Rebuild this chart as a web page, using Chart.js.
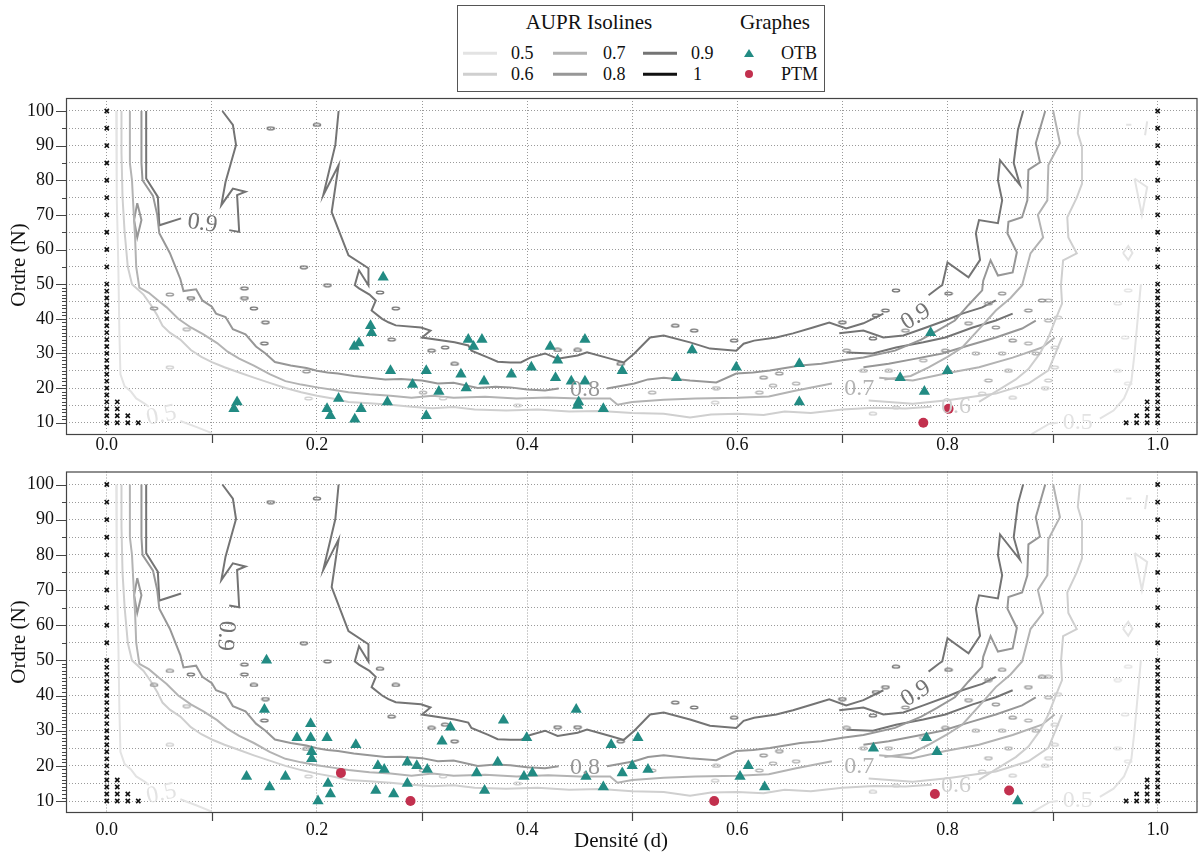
<!DOCTYPE html>
<html>
<head>
<meta charset="utf-8">
<script src="https://cdn.jsdelivr.net/npm/chart.js@4.4.1/dist/chart.umd.min.js"></script>
<style>
  body { margin: 0; background: #fff; width: 1204px; height: 853px; position: relative; overflow: hidden;
         font-family: "Liberation Serif", "Times New Roman", serif; color: #111; }
  .panel { position: absolute; left: 0; }
  #top { top: 90px; }
  #bot { top: 465px; }
  .ytitle { position: absolute; left: 18px; font-size: 21px; white-space: nowrap;
            transform: translate(-50%, -50%) rotate(-90deg); }
  #xtitle { position: absolute; left: 621px; top: 840px; font-size: 21px; white-space: nowrap;
            transform: translate(-50%, -50%); }
  #legend { position: absolute; left: 457px; top: 5px; width: 368px; height: 87px;
            border: 1px solid #555; box-sizing: border-box; background: #fff; }
  #legend div { position: absolute; white-space: nowrap; }
  .lt { font-size: 21px; transform: translate(-50%, -50%); }
  .li { font-size: 18px; transform: translateY(-50%); }
  .ls { height: 2.5px; width: 34px; transform: translateY(-50%); }
  .tri { width: 0; height: 0; border-left: 5px solid transparent; border-right: 5px solid transparent;
         border-bottom: 8px solid #228b83; transform: translate(-50%, -50%); }
  .dot { width: 8px; height: 8px; border-radius: 50%; background: #c2304e; transform: translate(-50%, -50%); }
</style>
</head>
<body>
<div class="panel" id="top"><canvas id="chartTop" width="1204" height="375"></canvas></div>
<div class="panel" id="bot"><canvas id="chartBot" width="1204" height="388"></canvas></div>
<div class="ytitle" style="top:265px">Ordre (N)</div>
<div class="ytitle" style="top:642px">Ordre (N)</div>
<div id="xtitle">Densité (d)</div>

<div id="legend">
  <div class="lt" style="left:131px;top:16px">AUPR Isolines</div>
  <div class="lt" style="left:317px;top:16px">Graphes</div>
  <div class="ls" style="left:5px;top:47px;background:#e3e3e3"></div><div class="li" style="left:53px;top:47px">0.5</div>
  <div class="ls" style="left:5px;top:68px;background:#cfcfcf"></div><div class="li" style="left:53px;top:68px">0.6</div>
  <div class="ls" style="left:95px;top:47px;background:#b3b3b3"></div><div class="li" style="left:145px;top:47px">0.7</div>
  <div class="ls" style="left:95px;top:68px;background:#979797"></div><div class="li" style="left:145px;top:68px">0.8</div>
  <div class="ls" style="left:185px;top:47px;background:#747474"></div><div class="li" style="left:233px;top:47px">0.9</div>
  <div class="ls" style="left:185px;top:68px;background:#111111"></div><div class="li" style="left:235px;top:68px">1</div>
  <div class="tri" style="left:291px;top:47px"></div><div class="li" style="left:323px;top:47px">OTB</div>
  <div class="dot" style="left:291px;top:68px"></div><div class="li" style="left:323px;top:68px">PTM</div>
</div>

<script>
// axes
const xTicks = [0, 0.1, 0.2, 0.3, 0.4, 0.5, 0.6, 0.7, 0.8, 0.9, 1.0];
const yTicks = [10, 15, 20, 25, 30, 35, 40, 45, 50, 55, 60, 65, 70, 75, 80, 85, 90, 95, 100];
const yMinor = [];
for (let n = 11; n < 50; n++) if (n % 10 !== 0) yMinor.push(n);
[55, 65, 75, 85, 95].forEach(n => yMinor.push(n));

// graphs (densite, ordre)
const otbTop = [[0.124,16],[0.121,14],[0.2096,14],[0.2128,12],[0.2206,17],[0.236,11],[0.242,14],[0.2355,32],
  [0.240,33],[0.251,38],[0.252,36],[0.263,52],[0.267,16],[0.270,25],[0.291,21],[0.304,25],[0.304,12],[0.316,19],
  [0.337,24],[0.342,20],[0.344,34],[0.349,32],[0.357,34],[0.359,22],[0.385,24],[0.404,26],[0.422,32],[0.427,23],
  [0.429,28],[0.442,22],[0.448,15],[0.449,16],[0.455,34],[0.455,22],[0.4725,14],[0.4905,25],[0.542,23],[0.557,31],
  [0.599,26],[0.659,27],[0.659,16],[0.755,23],[0.778,19],[0.784,36],[0.80,25]];
const ptmTop = [[0.777,10],[0.801,14]];
const otbBottom = [[0.133,17],[0.150,36],[0.152,50],[0.155,14],[0.170,17],[0.181,28],[0.194,32],[0.194,28],
  [0.195,24],[0.195,22],[0.201,10],[0.2096,28],[0.2105,15],[0.2128,12],[0.237,26],[0.256,13],[0.258,20],[0.264,19],
  [0.273,12],[0.286,21],[0.286,15],[0.295,20],[0.305,19],[0.319,27],[0.327,31],[0.352,18],[0.3595,13],[0.372,21],
  [0.3775,33],[0.397,17],[0.3996,28],[0.405,18],[0.4467,36],[0.456,17],[0.4725,14],[0.480,26],[0.4905,18],[0.500,20],
  [0.5054,28],[0.515,19],[0.6026,17],[0.6105,20],[0.626,14],[0.7295,25],[0.780,28],[0.790,24],[0.8668,10]];
const ptmBottom = [[0.2228,18],[0.289,10],[0.578,10],[0.788,12],[0.8586,13]];

// non realisables
const orders = [10,12,14,16,18,20,22,24,26,28,30,32,34,36,38,40,42,44,46,48,50,55,60,65,70,75,80,85,90,95,100];
const infeasibleExtra = [[0.01,10],[0.01,12],[0.01,14],[0.01,16],[0.02,10],[0.02,12],[0.03,10],
  [0.97,10],[0.98,10],[0.98,12],[0.99,10],[0.99,12],[0.99,14],[0.99,16]];

// isolines AUPR (null = coupure pour etiquette)
const iso05Left = [[0.009,100],[0.0095,75],[0.011,55],[0.012,36],[0.013,24],[0.017,20.5],[0.023,19],[0.028,17],
  [0.036,15.5],[0.04,14.6],null,[0.07,10.5],[0.085,8.8],[0.1,7]];
const iso05Right = [[0.88,6.7],[0.897,9.7],[0.905,10],null,[0.945,11.2],[0.958,13.5],[0.968,17],[0.975,22],
  [0.978,30],[0.981,40],[0.984,50]];
const iso05Bits = [[[0.978,80.5],[0.99,78],[0.985,70],[0.978,80.5]],[[0.967,59],[0.972,61],[0.976,59],[0.972,57],[0.967,59]],
  [[0.97,96],[0.975,96]],[[0.988,93],[0.99,97]]];
const iso06 = [[0.014,100],[0.014,88],[0.015,75],[0.017,65],[0.02,55],[0.024,50],[0.035,47],[0.042,44],[0.048,41],
  [0.053,38],[0.06,36],[0.07,34],[0.08,31],[0.09,29],[0.1,27.5],[0.112,26],[0.126,24.5],[0.14,23],[0.155,21.5],
  [0.17,20],[0.185,18.8],[0.2,17.8],[0.215,17],[0.23,16],[0.25,15.6],[0.27,15.2],[0.29,14.6],[0.31,14.2],[0.33,14.5],
  [0.35,13.8],[0.38,13.5],[0.41,13.8],[0.44,13.2],[0.47,13.4],[0.5,12.8],[0.53,12.6],[0.555,11.5],[0.575,12.4],
  [0.6,12.6],[0.625,12.2],[0.645,13.2],[0.67,12.8],[0.7,13.8],[0.73,14.3],[0.76,14.1],[0.785,14.6],null,[0.83,16],
  [0.846,19],[0.865,22.5],[0.877,25.5],[0.888,30],[0.896,34.6],[0.903,40],[0.909,44.4],[0.908,49.7],[0.91,56.9],
  [0.923,58.9],[0.915,63.5],[0.914,69.3],[0.923,75],[0.928,79],[0.928,89.6],[0.924,93.6],[0.926,100]];
const iso06b = [[0.725,16.4],[0.767,15.5],[0.8,16.5],[0.846,18.4],[0.877,21.3],[0.896,25.1],[0.909,34.6]];
const iso07 = [[0.022,100],[0.022,85],[0.024,80],[0.025,74],[0.027,63],[0.028,55],[0.031,49],[0.04,47.5],[0.05,45],
  [0.057,43.3],[0.068,40],[0.08,37.5],[0.092,35.5],[0.105,33],[0.115,30.5],[0.126,28.5],[0.14,26.5],[0.155,24],
  [0.17,22],[0.185,21],[0.2,20.2],[0.215,19.5],[0.23,18.8],[0.25,18.2],[0.27,17.8],[0.29,17.2],[0.31,17.8],[0.33,17.2],
  [0.36,17.5],[0.39,17],[0.42,17.3],[0.45,17],[0.479,17],[0.486,15.2],[0.5,16],[0.53,16.6],[0.56,17],[0.6,17.2],
  [0.63,17.6],[0.656,19.3],[0.69,21.3],null,[0.74,22.5],[0.765,23.5],[0.782,26],[0.8,29],[0.814,31.7],[0.83,37],
  [0.846,42.4],[0.86,46],[0.871,49.7],[0.879,58.9],[0.891,63.5],[0.886,70],[0.895,74.2],[0.896,84.4],[0.907,90.7],[0.9006,100]];
const iso07b = [[0.735,23],[0.767,22.2],[0.798,24.2],[0.83,26],[0.862,28.8],[0.89,31.7],[0.902,34.6]];
const iso08 = [[0.033,100],[0.033,85],[0.034,80],[0.044,75.5],[0.048,70],[0.05,64.7],[0.06,59],[0.07,51.5],[0.073,48],
  [0.085,48.5],[0.091,45.3],[0.1,43.5],[0.104,41.5],[0.113,40.5],[0.12,37],[0.132,35.5],[0.142,32],[0.151,30],
  [0.16,27.5],[0.175,26.5],[0.19,25.8],[0.2,25],[0.21,24.5],[0.22,24.2],[0.235,23.5],[0.25,23],[0.265,22.5],[0.28,22.6],
  [0.3,22.2],[0.315,21.3],[0.33,21.5],[0.353,20],[0.37,20.4],[0.384,20.2],[0.4,19.6],[0.417,19.3],[0.43,19.9],null,
  [0.476,19.9],[0.502,21.3],[0.515,22.5],[0.53,23],[0.555,22.2],[0.58,21.6],[0.599,24.2],[0.615,24.5],[0.631,25.1],
  [0.66,26.5],[0.68,27],[0.7,28],[0.72,28.8],[0.75,30.8],[0.775,34],[0.79,36.5],[0.807,39.5],[0.82,44],[0.833,48.2],
  [0.834,51],[0.841,56.9],[0.848,52.5],[0.862,53.4],[0.866,59.2],[0.857,64.7],[0.858,68],[0.871,69.3],[0.876,74.2],
  [0.877,83],[0.888,85.2],[0.884,90.7],[0.893,100]];
const iso08b = [[0.72,26],[0.744,27],[0.77,28.5],[0.795,30],[0.82,32.3],[0.846,34.6],[0.871,37.2],[0.884,39.5]];
const iso08loop = [[0.029,73.4],[0.033,68.5],[0.029,63.5],[0.026,68.5],[0.029,73.4]];
const iso09 = [[0.2206,100],[0.2175,90.2],[0.206,75.7],[0.2206,84.4],[0.214,70.8],[0.23,58.3],[0.249,54.6],[0.249,49.7],
  [0.24,54],[0.236,49.7],[0.24,48.8],[0.25,47],[0.256,45.3],[0.252,42.4],[0.262,40],[0.268,39],[0.275,38.1],[0.299,37.5],
  [0.308,36.6],[0.3,34.6],[0.331,33.2],[0.344,32.3],[0.347,30.8],[0.363,28.8],[0.372,27.6],[0.384,27.4],[0.394,27.4],
  [0.403,28.8],[0.417,30],[0.429,28.5],[0.448,29.4],[0.457,30.3],[0.479,28.5],[0.492,27.4],[0.502,30],[0.517,34.6],
  [0.53,35.2],[0.555,33.2],[0.574,31.4],[0.599,30.8],[0.606,32.8],[0.616,33.7],[0.637,34.6],[0.653,35.8],[0.672,37.5],
  [0.6875,38.9],[0.7036,37.2],[0.72,38.7],[0.739,41.5],null,[0.782,46.8],[0.792,49.1],[0.795,49.7],[0.800,56.3],
  [0.820,52],[0.831,57],[0.827,64.7],[0.830,68.5],[0.848,67.6],[0.852,74.2],[0.848,80],[0.850,85.8],[0.869,78.6],
  [0.863,85],[0.867,94.5],[0.872,100]];
const iso09Left = [[0.0375,100],[0.0375,80.5],[0.0486,75.2],[0.050,67],[0.0707,69],null,[0.1165,65.6],[0.126,65.1],
  [0.124,75.7],[0.132,76.7],[0.12,77.6],[0.109,72.8],[0.113,79.5],[0.123,90.2],[0.12,96],[0.11,100]];
const iso09b = [[0.697,35.8],[0.72,36.6],[0.739,34.6],[0.758,35.2],[0.777,37.2],[0.798,39.5],[0.814,41.5],[0.833,43.3],[0.846,45.3]];
const iso09c = [[0.704,30.3],[0.729,30],[0.751,31.7],[0.777,33.2],[0.798,34.6],[0.824,37.5],[0.846,39.5],[0.862,41.5]];

// petites iles fermees
const isl09 = [[0.08,46],[0.131,48.8],[0.131,46],[0.14,43],[0.151,39],[0.15,32.9],[0.1875,54.9],[0.21,49.7],[0.156,95],
  [0.2,96],[0.26,47.6],[0.275,43],[0.271,34],[0.309,30.8],[0.322,31.7],[0.331,27],[0.429,31],[0.448,31],[0.489,27],
  [0.541,38],[0.559,36.6],[0.597,33.7],[0.751,48.2],[0.732,41],[0.741,42.4],[0.70,39],[0.729,34.3],[0.801,47.3]];
const isl08 = [[0.19,24.8],[0.625,23],[0.64,24.2],[0.045,43],[0.06,47],[0.704,30.8],[0.760,36.6],[0.798,30.8],
  [0.82,38.7],[0.839,44.4],[0.852,47.3],[0.846,37.5],[0.862,33.7],[0.877,42.4],[0.89,45.3]];
const isl07 = [[0.519,18.7],[0.58,20],[0.634,20.7],[0.621,18.7],[0.656,21.3],[0.076,37],[0.301,18.7],[0.72,25],
  [0.744,25],[0.777,28],[0.827,30],[0.852,30],[0.877,32.9],[0.896,39.5],[0.896,45.3],[0.884,30],[0.858,25],[0.839,22.2]];
const isl06 = [[0.192,17],[0.32,17],[0.579,15.8],[0.391,15],[0.06,26],[0.862,17.2],[0.833,18.4],[0.729,12.6],
  [0.751,14.4],[0.893,20],[0.902,26],[0.902,31.7],[0.905,40.4],[0.896,22.2]];
const isl05 = [[0.972,48.2],[0.962,44.4],[0.969,34.6],[0.962,25],[0.972,21.3]];

// etiquettes des isolines : texte, d, N, rotation
const labelsTop = [['0.9',0.091,67.5,8],['0.8',0.455,19.5,0],['0.7',0.716,19.8,0],['0.6',0.808,14.5,0],
  ['0.5',0.052,12,-12],['0.5',0.924,10,0],['0.9',0.77,40.5,-32]];
const labelsBottom = [['0.9',0.113,57,95],['0.8',0.455,19.5,0],['0.7',0.716,19.8,0],['0.6',0.808,14.5,0],
  ['0.5',0.052,12,-12],['0.5',0.924,10,0],['0.9',0.77,40.5,-32]];

const isoColor = {'0.5': '#e3e3e3', '0.6': '#cfcfcf', '0.7': '#b3b3b3', '0.8': '#979797', '0.9': '#747474', '1': '#111111'};
const FONT = '"Liberation Serif", "Times New Roman", serif';

function pts(arr) {
  return arr.map(p => p ? {x: p[0], y: p[1]} : {x: null, y: null});
}

function ellipseImg(color) {
  const c = document.createElement('canvas');
  c.width = 10; c.height = 5;
  const g = c.getContext('2d');
  g.strokeStyle = color; g.lineWidth = 1.4;
  g.beginPath(); g.ellipse(5, 2.5, 3.6, 1.4, 0, 0, Math.PI * 2); g.stroke();
  return c;
}

function isoSet(arr, level) {
  return {data: pts(arr), showLine: true, borderColor: isoColor[level], borderWidth: 2,
    pointRadius: 0, pointHoverRadius: 0, tension: 0, spanGaps: false, order: 10};
}

function islandSet(arr, level) {
  return {data: pts(arr), showLine: false, pointStyle: ellipseImg(isoColor[level]), pointRadius: 4, order: 9};
}

function buildDatasets(otb, ptm) {
  const crosses = [];
  orders.forEach(n => { crosses.push([0, n]); crosses.push([1, n]); });
  infeasibleExtra.forEach(p => crosses.push(p));
  const sets = [
    {label: 'OTB', data: pts(otb), pointStyle: 'triangle', pointRadius: 6.5, backgroundColor: '#228b83',
      borderColor: '#228b83', borderWidth: 0, order: 0},
    {label: 'PTM', data: pts(ptm), pointStyle: 'circle', pointRadius: 5, backgroundColor: '#c2304e',
      borderColor: '#c2304e', borderWidth: 0, order: 0},
    {label: 'x', data: pts(crosses), pointStyle: 'crossRot', pointRadius: 3, borderWidth: 1.6,
      borderColor: '#111', backgroundColor: '#111', order: 1},
    isoSet(iso05Left, '0.5'), isoSet(iso05Right, '0.5'),
    isoSet(iso06, '0.6'), isoSet(iso06b, '0.6'),
    isoSet(iso07, '0.7'), isoSet(iso07b, '0.7'),
    isoSet(iso08, '0.8'), isoSet(iso08b, '0.8'), isoSet(iso08loop, '0.8'),
    isoSet(iso09, '0.9'), isoSet(iso09Left, '0.9'), isoSet(iso09b, '0.9'), isoSet(iso09c, '0.9'),
    islandSet(isl09, '0.9'), islandSet(isl08, '0.8'), islandSet(isl07, '0.7'),
    islandSet(isl06, '0.6'), islandSet(isl05, '0.5')
  ];
  iso05Bits.forEach(b => sets.push(isoSet(b, '0.5')));
  return sets;
}

const panelDecor = {
  id: 'panelDecor',
  afterDatasetsDraw(chart, args, opts) {
    const {ctx, scales: {x, y}} = chart;
    ctx.save();
    ctx.font = '24px ' + FONT;
    ctx.textAlign = 'center';
    ctx.textBaseline = 'middle';
    opts.labels.forEach(([txt, d, n, rot]) => {
      ctx.save();
      ctx.translate(x.getPixelForValue(d), y.getPixelForValue(n));
      ctx.rotate(rot * Math.PI / 180);
      ctx.fillStyle = isoColor[txt];
      ctx.fillText(txt, 0, 0);
      ctx.restore();
    });
    ctx.restore();
  },
  afterDraw(chart) {
    const {ctx, chartArea: a, scales: {x, y}} = chart;
    ctx.save();
    ctx.strokeStyle = '#444';
    ctx.lineWidth = 1.2;
    ctx.strokeRect(a.left + 0.5, a.top + 0.5, a.width - 1, a.height - 1);
    ctx.beginPath();
    xTicks.forEach((v, i) => {
      if (i % 2 === 1) {
        const px = Math.round(x.getPixelForValue(v)) + 0.5;
        ctx.moveTo(px, a.bottom); ctx.lineTo(px, a.bottom + 8);
      }
    });
    yTicks.forEach(v => {
      if (v % 10 === 0) {
        const py = Math.round(y.getPixelForValue(v)) + 0.5;
        ctx.moveTo(a.left, py); ctx.lineTo(a.left - 10, py);
      }
    });
    yMinor.forEach(v => {
      const py = Math.round(y.getPixelForValue(v)) + 0.5;
      ctx.moveTo(a.left, py); ctx.lineTo(a.left - 4, py);
    });
    ctx.stroke();
    ctx.restore();
  }
};

function makePanel(id, otb, ptm, labels, yMin, yMax, padTop, xAxisH, xPad) {
  return new Chart(document.getElementById(id), {
    type: 'scatter',
    data: {datasets: buildDatasets(otb, ptm)},
    plugins: [panelDecor],
    options: {
      responsive: false,
      animation: false,
      layout: {padding: {top: padTop, right: 1, left: 0, bottom: 0}},
      plugins: {
        legend: {display: false},
        tooltip: {enabled: false},
        panelDecor: {labels: labels}
      },
      scales: {
        x: {
          type: 'linear', min: -0.0388, max: 1.0379,
          afterBuildTicks: s => { s.ticks = xTicks.map(v => ({value: v})); },
          afterFit: s => { s.height = xAxisH; s.paddingLeft = 0; s.paddingRight = 0; },
          ticks: {
            autoSkip: false, maxRotation: 0, padding: xPad, color: '#111',
            font: {family: FONT, size: 18},
            callback: v => (Math.round(v * 10) % 2 === 0 ? v.toFixed(1) : '')
          },
          grid: {color: '#9a9a9a', lineWidth: 1, drawTicks: false},
          border: {display: false, dash: [1, 2]}
        },
        y: {
          type: 'linear', min: yMin, max: yMax,
          afterBuildTicks: s => { s.ticks = yTicks.map(v => ({value: v})); },
          afterFit: s => { s.width = 66; s.paddingTop = 0; s.paddingBottom = 0; },
          ticks: {
            autoSkip: false, padding: 12, color: '#111',
            font: {family: FONT, size: 18},
            callback: v => (v % 10 === 0 ? String(v) : '')
          },
          grid: {color: '#9a9a9a', lineWidth: 1, drawTicks: false},
          border: {display: false, dash: [1, 2]}
        }
      }
    }
  });
}

makePanel('chartTop', otbTop, ptmTop, labelsTop, 6.45, 103.75, 8, 30, -1);
makePanel('chartBot', otbBottom, ptmBottom, labelsBottom, 6.6, 103.7, 6, 40, 6);
</script>
</body>
</html>
